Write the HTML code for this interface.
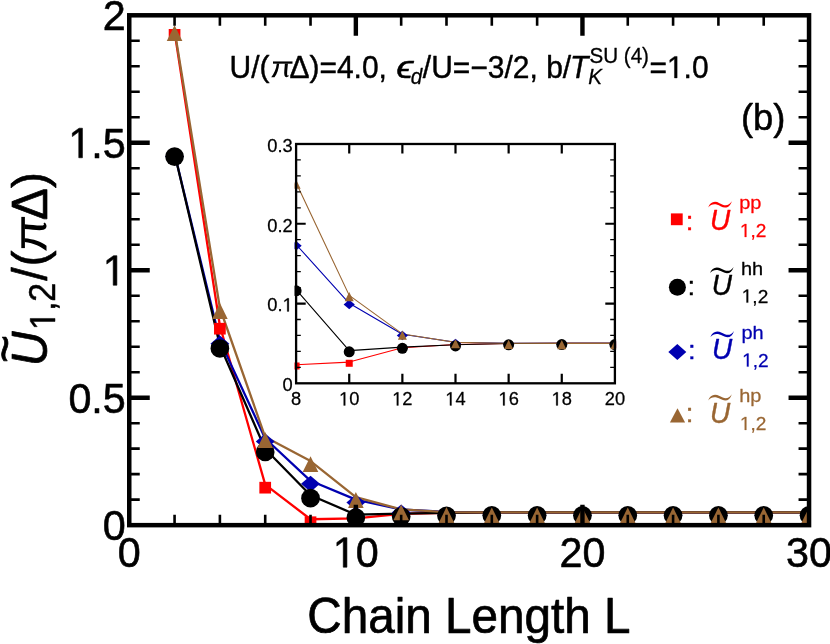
<!DOCTYPE html>
<html><head><meta charset="utf-8"><title>chart</title>
<style>html,body{margin:0;padding:0;background:#fff}svg{display:block;will-change:transform}text{font-family:"Liberation Sans",sans-serif;stroke:currentColor;stroke-linejoin:round}</style></head><body>
<svg width="830" height="644" viewBox="0 0 830 644">
<rect width="830" height="644" fill="#fff"/>
<defs><clipPath id="ci"><rect x="294.5" y="142.79" width="321.6" height="241.71"/></clipPath><clipPath id="cm"><rect x="127.3" y="13.3" width="683.7" height="513.6"/></clipPath><g id="pi"><path d="M0 -25.7H31.2V-22.1H0Z"/><path d="M9.9 -22.5C9.2 -13.5 6.6 -5.6 2.4 -0.5L-2.9 -0.5C1.5 -6 5 -13 6.1 -22.5Z"/><path d="M19 -22.5C18.6 -14.5 17.3 -8 18.3 -3.6C19.1 -0.2 22.6 0.7 25.5 -2.3L24.7 -3.5C23.3 -2.5 22.6 -3.1 22.6 -6C22.6 -11 23.4 -16.5 23.9 -22.5Z"/></g><path id="one" d="M515 0V1237L197 1010V1180L530 1409H696V0Z" stroke="currentColor" stroke-width="29" stroke-linejoin="round"/></defs>
<g clip-path="url(#cm)"><g id="main-lines">
<polyline fill="none" stroke="#ff0000" stroke-width="2.3" stroke-linejoin="round" points="174.57,31.87 219.89,325.7 265.21,484.67 310.53,519.24 355.85,518.37 401.17,513.81 446.49,512.74 491.81,512.45 537.13,512.4 582.45,512.4 627.77,512.4 673.09,512.4 718.41,512.4 763.73,512.4 809.05,512.4"/>
<polyline fill="none" stroke="#0000b0" stroke-width="2.3" stroke-linejoin="round" points="174.57,153.57 219.89,340.64 265.21,438.48 310.53,480.79 355.85,499.58 401.17,509.5 446.49,512.02 491.81,512.35 537.13,512.4 582.45,512.4 627.77,512.4 673.09,512.4 718.41,512.4 763.73,512.4 809.05,512.4"/>
<polyline fill="none" stroke="#000000" stroke-width="2.3" stroke-linejoin="round" points="174.57,153.57 219.89,345.48 265.21,448.98 310.53,495.2 355.85,514.72 401.17,513.58 446.49,512.81 491.81,512.45 537.13,512.4 582.45,512.4 627.77,512.4 673.09,512.4 718.41,512.4 763.73,512.4 809.05,512.4"/>
<polyline fill="none" stroke="#996633" stroke-width="2.3" stroke-linejoin="round" points="174.57,30.09 219.89,308 265.21,437.07 310.53,461.09 355.85,497.06 401.17,509.37 446.49,512.07 491.81,512.35 537.13,512.4 582.45,512.4 627.77,512.4 673.09,512.4 718.41,512.4 763.73,512.4 809.05,512.4"/>
</g><g id="main-marks">
<rect x="168.72" y="29.02" width="11.7" height="11.7" fill="#ff0000"/>
<rect x="214.04" y="322.85" width="11.7" height="11.7" fill="#ff0000"/>
<rect x="259.36" y="481.82" width="11.7" height="11.7" fill="#ff0000"/>
<rect x="304.68" y="516.39" width="11.7" height="11.7" fill="#ff0000"/>
<rect x="350" y="515.52" width="11.7" height="11.7" fill="#ff0000"/>
<rect x="395.32" y="510.96" width="11.7" height="11.7" fill="#ff0000"/>
<rect x="440.64" y="509.89" width="11.7" height="11.7" fill="#ff0000"/>
<rect x="485.96" y="509.6" width="11.7" height="11.7" fill="#ff0000"/>
<rect x="531.28" y="509.55" width="11.7" height="11.7" fill="#ff0000"/>
<rect x="576.6" y="509.55" width="11.7" height="11.7" fill="#ff0000"/>
<rect x="621.92" y="509.55" width="11.7" height="11.7" fill="#ff0000"/>
<rect x="667.24" y="509.55" width="11.7" height="11.7" fill="#ff0000"/>
<rect x="712.56" y="509.55" width="11.7" height="11.7" fill="#ff0000"/>
<rect x="757.88" y="509.55" width="11.7" height="11.7" fill="#ff0000"/>
<rect x="803.2" y="509.55" width="11.7" height="11.7" fill="#ff0000"/>
<path d="M174.57 148.47L184.02 156.57L174.57 164.67L165.12 156.57Z" fill="#0000b0"/>
<path d="M219.89 335.54L229.34 343.64L219.89 351.74L210.44 343.64Z" fill="#0000b0"/>
<path d="M265.21 433.38L274.66 441.48L265.21 449.58L255.76 441.48Z" fill="#0000b0"/>
<path d="M310.53 475.69L319.98 483.79L310.53 491.89L301.08 483.79Z" fill="#0000b0"/>
<path d="M355.85 494.48L365.3 502.58L355.85 510.68L346.4 502.58Z" fill="#0000b0"/>
<path d="M401.17 504.4L410.62 512.5L401.17 520.6L391.72 512.5Z" fill="#0000b0"/>
<path d="M446.49 506.92L455.94 515.02L446.49 523.12L437.04 515.02Z" fill="#0000b0"/>
<path d="M491.81 507.25L501.26 515.35L491.81 523.45L482.36 515.35Z" fill="#0000b0"/>
<path d="M537.13 507.3L546.58 515.4L537.13 523.5L527.68 515.4Z" fill="#0000b0"/>
<path d="M582.45 507.3L591.9 515.4L582.45 523.5L573 515.4Z" fill="#0000b0"/>
<path d="M627.77 507.3L637.22 515.4L627.77 523.5L618.32 515.4Z" fill="#0000b0"/>
<path d="M673.09 507.3L682.54 515.4L673.09 523.5L663.64 515.4Z" fill="#0000b0"/>
<path d="M718.41 507.3L727.86 515.4L718.41 523.5L708.96 515.4Z" fill="#0000b0"/>
<path d="M763.73 507.3L773.18 515.4L763.73 523.5L754.28 515.4Z" fill="#0000b0"/>
<path d="M809.05 507.3L818.5 515.4L809.05 523.5L799.6 515.4Z" fill="#0000b0"/>
<circle cx="174.57" cy="156.57" r="9.35" fill="#000000"/>
<circle cx="219.89" cy="348.48" r="9.35" fill="#000000"/>
<circle cx="265.21" cy="451.98" r="9.35" fill="#000000"/>
<circle cx="310.53" cy="498.2" r="9.35" fill="#000000"/>
<circle cx="355.85" cy="517.72" r="9.35" fill="#000000"/>
<circle cx="401.17" cy="516.58" r="9.35" fill="#000000"/>
<circle cx="446.49" cy="515.81" r="9.35" fill="#000000"/>
<circle cx="491.81" cy="515.45" r="9.35" fill="#000000"/>
<circle cx="537.13" cy="515.4" r="9.35" fill="#000000"/>
<circle cx="582.45" cy="515.4" r="9.35" fill="#000000"/>
<circle cx="627.77" cy="515.4" r="9.35" fill="#000000"/>
<circle cx="673.09" cy="515.4" r="9.35" fill="#000000"/>
<circle cx="718.41" cy="515.4" r="9.35" fill="#000000"/>
<circle cx="763.73" cy="515.4" r="9.35" fill="#000000"/>
<circle cx="809.05" cy="515.4" r="9.35" fill="#000000"/>
<path d="M174.57 25.14L182.37 41.04L166.77 41.04Z" fill="#996633"/>
<path d="M219.89 303.05L227.69 318.95L212.09 318.95Z" fill="#996633"/>
<path d="M265.21 432.12L273.01 448.02L257.41 448.02Z" fill="#996633"/>
<path d="M310.53 456.14L318.33 472.04L302.73 472.04Z" fill="#996633"/>
<path d="M355.85 492.11L363.65 508.01L348.05 508.01Z" fill="#996633"/>
<path d="M401.17 504.42L408.97 520.32L393.37 520.32Z" fill="#996633"/>
<path d="M446.49 507.12L454.29 523.02L438.69 523.02Z" fill="#996633"/>
<path d="M491.81 507.4L499.61 523.3L484.01 523.3Z" fill="#996633"/>
<path d="M537.13 507.45L544.93 523.35L529.33 523.35Z" fill="#996633"/>
<path d="M582.45 507.45L590.25 523.35L574.65 523.35Z" fill="#996633"/>
<path d="M627.77 507.45L635.57 523.35L619.97 523.35Z" fill="#996633"/>
<path d="M673.09 507.45L680.89 523.35L665.29 523.35Z" fill="#996633"/>
<path d="M718.41 507.45L726.21 523.35L710.61 523.35Z" fill="#996633"/>
<path d="M763.73 507.45L771.53 523.35L755.93 523.35Z" fill="#996633"/>
<path d="M809.05 507.45L816.85 523.35L801.25 523.35Z" fill="#996633"/>
</g></g>
<g id="main-axes" stroke="#000" fill="none">
<path d="M129.25 499.66h10.5 M809.05 499.66h-10.5" stroke-width="2.6"/>
<path d="M129.25 474.16h10.5 M809.05 474.16h-10.5" stroke-width="2.6"/>
<path d="M129.25 448.67h10.5 M809.05 448.67h-10.5" stroke-width="2.6"/>
<path d="M129.25 423.18h10.5 M809.05 423.18h-10.5" stroke-width="2.6"/>
<path d="M129.25 397.69h20.5 M809.05 397.69h-20.5" stroke-width="4.4"/>
<path d="M129.25 372.19h10.5 M809.05 372.19h-10.5" stroke-width="2.6"/>
<path d="M129.25 346.7h10.5 M809.05 346.7h-10.5" stroke-width="2.6"/>
<path d="M129.25 321.21h10.5 M809.05 321.21h-10.5" stroke-width="2.6"/>
<path d="M129.25 295.72h10.5 M809.05 295.72h-10.5" stroke-width="2.6"/>
<path d="M129.25 270.23h20.5 M809.05 270.23h-20.5" stroke-width="4.4"/>
<path d="M129.25 244.73h10.5 M809.05 244.73h-10.5" stroke-width="2.6"/>
<path d="M129.25 219.24h10.5 M809.05 219.24h-10.5" stroke-width="2.6"/>
<path d="M129.25 193.75h10.5 M809.05 193.75h-10.5" stroke-width="2.6"/>
<path d="M129.25 168.25h10.5 M809.05 168.25h-10.5" stroke-width="2.6"/>
<path d="M129.25 142.76h20.5 M809.05 142.76h-20.5" stroke-width="4.4"/>
<path d="M129.25 117.27h10.5 M809.05 117.27h-10.5" stroke-width="2.6"/>
<path d="M129.25 91.78h10.5 M809.05 91.78h-10.5" stroke-width="2.6"/>
<path d="M129.25 66.29h10.5 M809.05 66.29h-10.5" stroke-width="2.6"/>
<path d="M129.25 40.79h10.5 M809.05 40.79h-10.5" stroke-width="2.6"/>
<path d="M174.57 525.15v-10.5 M174.57 15.3v10.5" stroke-width="2.6"/>
<path d="M219.89 525.15v-10.5 M219.89 15.3v10.5" stroke-width="2.6"/>
<path d="M265.21 525.15v-10.5 M265.21 15.3v10.5" stroke-width="2.6"/>
<path d="M310.53 525.15v-10.5 M310.53 15.3v10.5" stroke-width="2.6"/>
<path d="M355.85 525.15v-20.5 M355.85 15.3v20.5" stroke-width="4.4"/>
<path d="M401.17 525.15v-10.5 M401.17 15.3v10.5" stroke-width="2.6"/>
<path d="M446.49 525.15v-10.5 M446.49 15.3v10.5" stroke-width="2.6"/>
<path d="M491.81 525.15v-10.5 M491.81 15.3v10.5" stroke-width="2.6"/>
<path d="M537.13 525.15v-10.5 M537.13 15.3v10.5" stroke-width="2.6"/>
<path d="M582.45 525.15v-20.5 M582.45 15.3v20.5" stroke-width="4.4"/>
<path d="M627.77 525.15v-10.5 M627.77 15.3v10.5" stroke-width="2.6"/>
<path d="M673.09 525.15v-10.5 M673.09 15.3v10.5" stroke-width="2.6"/>
<path d="M718.41 525.15v-10.5 M718.41 15.3v10.5" stroke-width="2.6"/>
<path d="M763.73 525.15v-10.5 M763.73 15.3v10.5" stroke-width="2.6"/>
<rect x="129.25" y="15.3" width="679.8" height="509.85" stroke-width="4.5"/>
</g>
<g id="main-labels" fill="#000">
<text transform="translate(102.83 30.3) scale(1 1.04)" font-size="41.3" stroke-width="0.58">2</text>
<use href="#one" transform="translate(68.39 157.76) scale(0.02017 -0.02097)"/><text transform="translate(91.36 157.76) scale(1 1.04)" font-size="41.3" stroke-width="0.58">.5</text>
<use href="#one" transform="translate(102.83 285.23) scale(0.02017 -0.02097)"/>
<text transform="translate(68.39 412.69) scale(1 1.04)" font-size="41.3" stroke-width="0.58">0.5</text>
<text transform="translate(102.83 540.15) scale(1 1.04)" font-size="41.3" stroke-width="0.58">0</text>
<text transform="translate(117.77 567.2) scale(1 1.04)" font-size="41.3" stroke-width="0.58">0</text>
<use href="#one" transform="translate(332.88 567.2) scale(0.02017 -0.02097)"/><text transform="translate(355.85 567.2) scale(1 1.04)" font-size="41.3" stroke-width="0.58">0</text>
<text transform="translate(559.48 567.2) scale(1 1.04)" font-size="41.3" stroke-width="0.58">20</text>
<text transform="translate(786.08 567.2) scale(1 1.04)" font-size="41.3" stroke-width="0.58">30</text>
</g>
<text transform="translate(307.3 633) scale(1 1.04)" font-size="47.65" stroke-width="0.67">Chain Length L</text>
<rect x="296.1" y="143.99" width="318.8" height="239.31" fill="#fff"/>
<g id="inset-data" clip-path="url(#ci)">
<polyline fill="none" stroke="#ff0000" stroke-width="1.1" stroke-linejoin="round" points="296.1,364.79 349.23,362.08 402.37,347.8 455.5,344.45 508.64,343.57 561.77,343.42 614.9,343.42"/>
<polyline fill="none" stroke="#0000b0" stroke-width="1.1" stroke-linejoin="round" points="296.1,244.5 349.23,303.29 402.37,334.32 455.5,342.22 508.64,343.26 561.77,343.42 614.9,343.42"/>
<polyline fill="none" stroke="#000000" stroke-width="1.1" stroke-linejoin="round" points="296.1,289.57 349.23,350.67 402.37,347.08 455.5,344.69 508.64,343.57 561.77,343.42 614.9,343.42"/>
<polyline fill="none" stroke="#996633" stroke-width="1.1" stroke-linejoin="round" points="296.1,182.84 349.23,295.39 402.37,333.92 455.5,342.38 508.64,343.26 561.77,343.42 614.9,343.42"/>
<rect x="292.6" y="362.49" width="7" height="7" fill="#ff0000"/>
<rect x="345.73" y="359.78" width="7" height="7" fill="#ff0000"/>
<rect x="398.87" y="345.5" width="7" height="7" fill="#ff0000"/>
<rect x="452" y="342.15" width="7" height="7" fill="#ff0000"/>
<rect x="505.14" y="341.27" width="7" height="7" fill="#ff0000"/>
<rect x="558.27" y="341.12" width="7" height="7" fill="#ff0000"/>
<rect x="611.4" y="341.12" width="7" height="7" fill="#ff0000"/>
<path d="M296.1 241L301.7 245.7L296.1 250.4L290.5 245.7Z" fill="#0000b0"/>
<path d="M349.23 299.79L354.83 304.49L349.23 309.19L343.63 304.49Z" fill="#0000b0"/>
<path d="M402.37 330.82L407.97 335.52L402.37 340.22L396.77 335.52Z" fill="#0000b0"/>
<path d="M455.5 338.72L461.1 343.42L455.5 348.12L449.9 343.42Z" fill="#0000b0"/>
<path d="M508.64 339.76L514.24 344.46L508.64 349.16L503.04 344.46Z" fill="#0000b0"/>
<path d="M561.77 339.92L567.37 344.62L561.77 349.31L556.17 344.62Z" fill="#0000b0"/>
<path d="M614.9 339.92L620.5 344.62L614.9 349.31L609.3 344.62Z" fill="#0000b0"/>
<circle cx="296.1" cy="290.77" r="5.5" fill="#000000"/>
<circle cx="349.23" cy="351.87" r="5.5" fill="#000000"/>
<circle cx="402.37" cy="348.28" r="5.5" fill="#000000"/>
<circle cx="455.5" cy="345.89" r="5.5" fill="#000000"/>
<circle cx="508.64" cy="344.77" r="5.5" fill="#000000"/>
<circle cx="561.77" cy="344.62" r="5.5" fill="#000000"/>
<circle cx="614.9" cy="344.62" r="5.5" fill="#000000"/>
<path d="M296.1 179.44L300.6 188.64L291.6 188.64Z" fill="#996633"/>
<path d="M349.23 291.99L353.73 301.19L344.73 301.19Z" fill="#996633"/>
<path d="M402.37 330.52L406.87 339.72L397.87 339.72Z" fill="#996633"/>
<path d="M455.5 338.98L460 348.18L451 348.18Z" fill="#996633"/>
<path d="M508.64 339.86L513.14 349.06L504.14 349.06Z" fill="#996633"/>
<path d="M561.77 340.01L566.27 349.22L557.27 349.22Z" fill="#996633"/>
<path d="M614.9 340.01L619.4 349.22L610.4 349.22Z" fill="#996633"/>
</g>
<g id="inset-axes" stroke="#000" fill="none">
<path d="M296.1 367.35h4.7 M614.9 367.35h-4.7" stroke-width="1.3"/>
<path d="M296.1 351.39h4.7 M614.9 351.39h-4.7" stroke-width="1.3"/>
<path d="M296.1 335.44h4.7 M614.9 335.44h-4.7" stroke-width="1.3"/>
<path d="M296.1 319.48h4.7 M614.9 319.48h-4.7" stroke-width="1.3"/>
<path d="M296.1 303.53h9.6 M614.9 303.53h-9.6" stroke-width="2.2"/>
<path d="M296.1 287.58h4.7 M614.9 287.58h-4.7" stroke-width="1.3"/>
<path d="M296.1 271.62h4.7 M614.9 271.62h-4.7" stroke-width="1.3"/>
<path d="M296.1 255.67h4.7 M614.9 255.67h-4.7" stroke-width="1.3"/>
<path d="M296.1 239.71h4.7 M614.9 239.71h-4.7" stroke-width="1.3"/>
<path d="M296.1 223.76h9.6 M614.9 223.76h-9.6" stroke-width="2.2"/>
<path d="M296.1 207.81h4.7 M614.9 207.81h-4.7" stroke-width="1.3"/>
<path d="M296.1 191.85h4.7 M614.9 191.85h-4.7" stroke-width="1.3"/>
<path d="M296.1 175.9h4.7 M614.9 175.9h-4.7" stroke-width="1.3"/>
<path d="M296.1 159.94h4.7 M614.9 159.94h-4.7" stroke-width="1.3"/>
<path d="M349.23 383.3v-9.6 M349.23 143.99v9.6" stroke-width="2.2"/>
<path d="M402.37 383.3v-9.6 M402.37 143.99v9.6" stroke-width="2.2"/>
<path d="M455.5 383.3v-9.6 M455.5 143.99v9.6" stroke-width="2.2"/>
<path d="M508.64 383.3v-9.6 M508.64 143.99v9.6" stroke-width="2.2"/>
<path d="M561.77 383.3v-9.6 M561.77 143.99v9.6" stroke-width="2.2"/>
<rect x="296.1" y="143.99" width="318.8" height="239.31" stroke-width="2.3"/>
</g>
<g id="inset-labels" fill="#000">
<text transform="translate(267.36 151.89) scale(1 1.04)" font-size="18.3" stroke-width="0.26">0.3</text>
<text transform="translate(267.36 231.66) scale(1 1.04)" font-size="18.3" stroke-width="0.26">0.2</text>
<text transform="translate(267.36 311.43) scale(1 1.04)" font-size="18.3" stroke-width="0.26">0.</text><use href="#one" transform="translate(282.62 311.43) scale(0.00894 -0.00929)"/>
<text transform="translate(282.62 391.2) scale(1 1.04)" font-size="18.3" stroke-width="0.26">0</text>
<text transform="translate(291.01 405.4) scale(1 1.04)" font-size="18.3" stroke-width="0.26">8</text>
<use href="#one" transform="translate(339.06 405.4) scale(0.00894 -0.00929)"/><text transform="translate(349.23 405.4) scale(1 1.04)" font-size="18.3" stroke-width="0.26">0</text>
<use href="#one" transform="translate(392.19 405.4) scale(0.00894 -0.00929)"/><text transform="translate(402.37 405.4) scale(1 1.04)" font-size="18.3" stroke-width="0.26">2</text>
<use href="#one" transform="translate(445.32 405.4) scale(0.00894 -0.00929)"/><text transform="translate(455.5 405.4) scale(1 1.04)" font-size="18.3" stroke-width="0.26">4</text>
<use href="#one" transform="translate(498.46 405.4) scale(0.00894 -0.00929)"/><text transform="translate(508.64 405.4) scale(1 1.04)" font-size="18.3" stroke-width="0.26">6</text>
<use href="#one" transform="translate(551.59 405.4) scale(0.00894 -0.00929)"/><text transform="translate(561.77 405.4) scale(1 1.04)" font-size="18.3" stroke-width="0.26">8</text>
<text transform="translate(604.73 405.4) scale(1 1.04)" font-size="18.3" stroke-width="0.26">20</text>
</g>
<g id="title" fill="#000">
<text transform="translate(229.5 77.9) scale(1 1.04)" font-size="30" stroke-width="0.42">U/</text>
<text transform="translate(259.5 77.4) scale(1 0.98)" font-size="30" stroke-width="0.42">(</text>
<use href="#pi" transform="translate(273 77.5) scale(0.625)"/>
<text transform="translate(289.4 77.9) scale(1 1.04)" font-size="30" stroke-width="0.42">Δ</text>
<text transform="translate(309.4 77.4) scale(1 0.98)" font-size="30" stroke-width="0.42">)</text>
<text transform="translate(319.4 77.9) scale(1 1.04)" font-size="30" stroke-width="0.42">=4.0,</text>
<text transform="translate(396.2 77.9) scale(1.3 1.04)" font-size="30" stroke-width="0.42" font-style="italic">ϵ</text>
<text transform="translate(410.8 84.1) scale(1 1.04)" font-size="20.6" stroke-width="0.29" font-style="italic">d</text>
<text transform="translate(422.8 77.9) scale(1 1.04)" font-size="30" stroke-width="0.42">/U=−3/2, b/</text>
<text transform="translate(570 77.9) scale(1 1.04)" font-size="30" stroke-width="0.42" font-style="italic">T</text>
<text transform="translate(588.2 84.1) scale(1 1.04)" font-size="20.6" stroke-width="0.29" font-style="italic">K</text>
<text transform="translate(589.5 63.3) scale(1 1.04)" font-size="20.6" stroke-width="0.29">SU (4)</text>
<text transform="translate(649.4 77.9) scale(1 1.04)" font-size="30" stroke-width="0.42">=</text><use href="#one" transform="translate(666.92 77.9) scale(0.01465 -0.01523)"/><text transform="translate(683.6 77.9) scale(1 1.04)" font-size="30" stroke-width="0.42">.0</text>
</g>
<text transform="translate(741 129.6) scale(1 0.99)" font-size="36.4" stroke-width="0.51">(b)</text>
<g id="legend">
<g fill="#ff0000" color="#ff0000"><rect x="670.9" y="213.4" width="11.8" height="11.8" fill="#ff0000"/><text transform="translate(685.8 229.5) scale(1 0.96)" font-size="27.5" stroke-width="0.39">:</text><text transform="translate(709.9 229.8) scale(1 1.04)" font-size="28" stroke-width="0.39" font-style="italic">U</text><path d="M708.2 207.5 c1.8 -5.2 6.3 -7.2 11.3 -4.3 c5 2.8 9 3.3 12.3 -1.9 c-1.8 6.3 -6.3 7.7 -11.3 4.9 c-5 -2.8 -9 -2.6 -12.3 1.3z"/><text transform="translate(739.2 209.4) scale(1 0.9)" font-size="20" stroke-width="0.28">pp</text><use href="#one" transform="translate(739.9 237) scale(0.00933 -0.00923)"/><text transform="translate(750.52 237) scale(1 0.99)" font-size="19.1" stroke-width="0.27">,2</text></g>
<g fill="#000000" color="#000000"><circle cx="677.4" cy="287.3" r="8.5" fill="#000000"/><text transform="translate(687.6 295.1) scale(1 0.96)" font-size="27.5" stroke-width="0.39">:</text><text transform="translate(711.7 295.4) scale(1 1.04)" font-size="28" stroke-width="0.39" font-style="italic">U</text><path d="M710 273.1 c1.8 -5.2 6.3 -7.2 11.3 -4.3 c5 2.8 9 3.3 12.3 -1.9 c-1.8 6.3 -6.3 7.7 -11.3 4.9 c-5 -2.8 -9 -2.6 -12.3 1.3z"/><text transform="translate(741 275) scale(1 0.9)" font-size="20" stroke-width="0.28">hh</text><use href="#one" transform="translate(741.7 302.6) scale(0.00933 -0.00923)"/><text transform="translate(752.32 302.6) scale(1 0.99)" font-size="19.1" stroke-width="0.27">,2</text></g>
<g fill="#0000b0" color="#0000b0"><path d="M677.3 344.1L686.3 352.1L677.3 360.1L668.3 352.1Z" fill="#0000b0"/><text transform="translate(688 359.1) scale(1 0.96)" font-size="27.5" stroke-width="0.39">:</text><text transform="translate(712.1 359.4) scale(1 1.04)" font-size="28" stroke-width="0.39" font-style="italic">U</text><path d="M710.4 337.1 c1.8 -5.2 6.3 -7.2 11.3 -4.3 c5 2.8 9 3.3 12.3 -1.9 c-1.8 6.3 -6.3 7.7 -11.3 4.9 c-5 -2.8 -9 -2.6 -12.3 1.3z"/><text transform="translate(741.4 339) scale(1 0.9)" font-size="20" stroke-width="0.28">ph</text><use href="#one" transform="translate(742.1 366.6) scale(0.00933 -0.00923)"/><text transform="translate(752.72 366.6) scale(1 0.99)" font-size="19.1" stroke-width="0.27">,2</text></g>
<g fill="#996633" color="#996633"><path d="M677.5 408.25L685.1 422.55L669.9 422.55Z" fill="#996633"/><text transform="translate(685.8 422.4) scale(1 0.96)" font-size="27.5" stroke-width="0.39">:</text><text transform="translate(709.9 422.7) scale(1 1.04)" font-size="28" stroke-width="0.39" font-style="italic">U</text><path d="M708.2 400.4 c1.8 -5.2 6.3 -7.2 11.3 -4.3 c5 2.8 9 3.3 12.3 -1.9 c-1.8 6.3 -6.3 7.7 -11.3 4.9 c-5 -2.8 -9 -2.6 -12.3 1.3z"/><text transform="translate(739.2 402.3) scale(1 0.9)" font-size="20" stroke-width="0.28">hp</text><use href="#one" transform="translate(739.9 429.9) scale(0.00933 -0.00923)"/><text transform="translate(750.52 429.9) scale(1 0.99)" font-size="19.1" stroke-width="0.27">,2</text></g>
</g>
<g id="ylabel" transform="translate(47,363) rotate(-90)" fill="#000">
<text transform="translate(-3.2 0) scale(1 1.06)" font-size="48" stroke-width="0.67" font-style="italic">U</text>
<text transform="translate(0 -25.4) scale(1 1.06)" font-size="48" stroke-width="0.67">~</text>
<use href="#one" transform="translate(33 8) scale(0.01660 -0.01760)"/><text transform="translate(51.91 8) scale(1 1.06)" font-size="34" stroke-width="0.48">,2</text>
<text transform="translate(82.3 0) scale(1 1.06)" font-size="48" stroke-width="0.67">/</text>
<text transform="translate(96.6 -1) scale(1 1)" font-size="48" stroke-width="0.67">(</text>
<use href="#pi" transform="translate(114.9 0)"/>
<text transform="translate(142.8 0) scale(1 1.04)" font-size="48" stroke-width="0.67">Δ</text>
<text transform="translate(174.9 -1) scale(1 1)" font-size="48" stroke-width="0.67">)</text>
</g>
</svg></body></html>
